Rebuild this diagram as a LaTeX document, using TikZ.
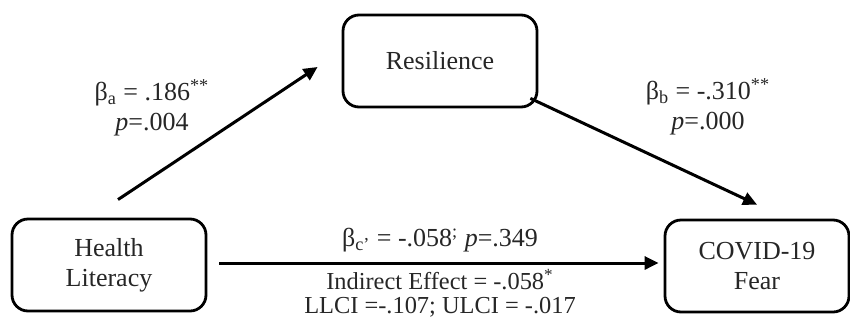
\documentclass[tikz,border=0pt]{standalone}
\usepackage{fontspec}
\setmainfont{Liberation Serif}
\usetikzlibrary{arrows.meta}

\tikzset{
  box/.style={draw=black,line width=1.4pt,rounded corners=8pt,minimum width=97pt,minimum height=46pt,align=center,text=black!85,font=\fontsize{13}{15}\selectfont},
  lbl/.style={align=center,text=black!85,font=\fontsize{13}{15}\selectfont},
  note/.style={align=center,text=black!85,font=\fontsize{12.2}{12}\selectfont},
  path/.style={line width=1.5pt,-{Triangle[length=7pt,width=6.5pt]}}
}

\begin{document}
\begin{tikzpicture}[x=0.5pt,y=-0.5pt]
\useasboundingbox (0,0) rectangle (850,327);

\node[box] (hl) at (109,265) {Health\\Literacy};
\node[box] (res) at (440,61) {Resilience};
\node[box,minimum width=92pt] (fear) at (757,266) {COVID-19\\Fear};

\draw[path] ([shift={(9,-18)}]hl.north) -- ([shift={(-24,6)}]res.west);
\draw[path] ([shift={(-8,-10)}]res.south east) -- ([shift={(0,-14)}]fear.north);
\draw[path] ([shift={(12,-2)}]hl.east) -- ([shift={(-5,-2)}]hl.east -| fear.west);

\node[lbl] (la) at (152,108) {β\textsubscript{a} = .186\textsuperscript{**}\\\textit{p}=.004};
\node[lbl] (lb) at (708,107) {β\textsubscript{b} = -.310\textsuperscript{**}\\\textit{p}=.000};
\node[lbl] (lc) at (440,240) {β\textsubscript{c’} = -.058\textsuperscript{;} \textit{p}=.349};
\node[note] (ind) at (440,293) {Indirect Effect = -.058\textsuperscript{*}\\LLCI =-.107; ULCI = -.017};
\end{tikzpicture}
\end{document}
